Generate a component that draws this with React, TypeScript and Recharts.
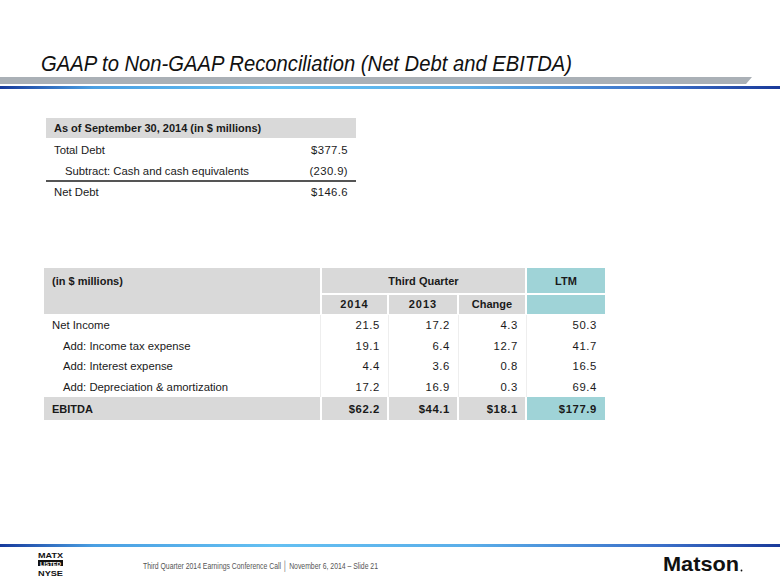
import React from 'react';
import { Surface, Rectangle, Layer } from 'recharts';

const titleText = 'GAAP to Non-GAAP Reconciliation (Net Debt and EBITDA)';
const footerText = 'Third Quarter 2014 Earnings Conference Call  \u2502 November 6, 2014 \u2013 Slide 21';

const netDebtHeader = 'As of September 30, 2014 (in $ millions)';
const netDebtLabels = ['Total Debt', 'Subtract: Cash and cash equivalents', 'Net Debt'];
const netDebtValues = ['$377.5', '(230.9)', '$146.6'];
const netDebtIndent = [false, true, false];

const ebitdaUnitLabel = '(in $ millions)';
const periodGroupLabel = 'Third Quarter';
const ltmLabel = 'LTM';
const columnLabels = ['2014', '2013', 'Change'];
const ebitdaLabels = [
  'Net Income',
  'Add: Income tax expense',
  'Add: Interest expense',
  'Add: Depreciation & amortization',
  'EBITDA',
];
const ebitdaIndent = [false, true, true, true, false];
const q2014 = [21.5, 19.1, 4.4, 17.2, 62.2];
const q2013 = [17.2, 6.4, 3.6, 16.9, 44.1];
const changeVals = [4.3, 12.7, 0.8, 0.3, 18.1];
const ltmVals = [50.3, 41.7, 16.5, 69.4, 177.9];

const FONT = '"Liberation Sans", Arial, sans-serif';
const GRAY = '#d9d9d9';
const TEAL = '#9fd3d7';
const TXT = '#1a1a1a';
const FS = 11.3;

const fmt = (v: number, total: boolean) => (total ? '$' : '') + v.toFixed(1);

export default function App() {
  const t2Top = 268;
  const colEdges = [
    [322, 387],
    [389, 457],
    [459, 525],
  ];
  const ltmEdge = [527, 605];
  const rowYs = [325, 346, 366, 387, 409];
  const seriesCols = [q2014, q2013, changeVals];

  return (
    <div style={{ position: 'absolute', left: 0, top: 0, width: 780, height: 585, background: '#fff' }}>
      <Surface width={780} height={585} viewBox={{ x: 0, y: 0, width: 780, height: 585 }}>
        <defs>
          <linearGradient id="blueLine" x1="0" y1="0" x2="1" y2="0">
            <stop offset="0" stopColor="#173a9c" />
            <stop offset="0.12" stopColor="#4a9fe2" />
            <stop offset="0.35" stopColor="#64c0f2" />
            <stop offset="0.6" stopColor="#5aaee9" />
            <stop offset="0.85" stopColor="#3b6fc8" />
            <stop offset="1" stopColor="#1a3a9a" />
          </linearGradient>
        </defs>

        {/* Title */}
        <text
          x={41}
          y={71}
          fontFamily={FONT}
          fontStyle="italic"
          fontSize={22}
          fill="#111"
          textLength={531}
          lengthAdjust="spacingAndGlyphs"
        >
          {titleText}
        </text>
        <path d="M0,77 L752,77 L746,84 L0,84 Z" fill="#aab0b6" />
        <rect x={0} y={86} width={780} height={3} fill="url(#blueLine)" />

        {/* Table 1 */}
        <Layer>
          <Rectangle x={46} y={118} width={310} height={20} fill={GRAY} />
          <text x={54} y={131.5} fontFamily={FONT} fontWeight="bold" fontSize={11} fill={TXT}>
            {netDebtHeader}
          </text>
          {netDebtLabels.map((l, i) => {
            const y = [150, 171, 192][i];
            return (
              <g key={l}>
                <text x={netDebtIndent[i] ? 65 : 54} y={y + 4} fontFamily={FONT} fontSize={FS} fill={TXT}>
                  {l}
                </text>
                <text x={348} y={y + 4} textAnchor="end" fontFamily={FONT} fontSize={FS} letterSpacing={0.4} fill={TXT}>
                  {netDebtValues[i]}
                </text>
              </g>
            );
          })}
          <rect x={46} y={180} width={310} height={2} fill="#555" />
        </Layer>

        {/* Table 2 */}
        <Layer>
          <Rectangle x={44} y={t2Top} width={276} height={46} fill={GRAY} />
          <Rectangle x={322} y={t2Top} width={203} height={25} fill={GRAY} />
          <Rectangle x={527} y={t2Top} width={78} height={25} fill={TEAL} />
          {colEdges.map(([a, b], i) => (
            <Rectangle key={i} x={a} y={295} width={b - a} height={19} fill={GRAY} />
          ))}
          <Rectangle x={527} y={295} width={78} height={19} fill={TEAL} />
          <text x={52} y={285} fontFamily={FONT} fontWeight="bold" fontSize={11} fill={TXT}>
            {ebitdaUnitLabel}
          </text>
          <text x={423.5} y={285} textAnchor="middle" fontFamily={FONT} fontWeight="bold" fontSize={11} fill={TXT}>
            {periodGroupLabel}
          </text>
          <text x={566} y={285} textAnchor="middle" fontFamily={FONT} fontWeight="bold" fontSize={11} fill={TXT}>
            {ltmLabel}
          </text>
          {columnLabels.map((c, i) => (
            <text
              key={c}
              x={(colEdges[i][0] + colEdges[i][1]) / 2}
              y={308}
              textAnchor="middle"
              fontFamily={FONT}
              fontWeight="bold"
              fontSize={11}
              letterSpacing={i < 2 ? 1 : 0}
              fill={TXT}
            >
              {c}
            </text>
          ))}

          {[320, 388, 458, 526].map((x) => (
            <rect key={x} x={x} y={315} width={1} height={82} fill="#eeeeee" />
          ))}

          <Rectangle x={44} y={397} width={276} height={23} fill={GRAY} />
          {colEdges.map(([a, b], i) => (
            <Rectangle key={'t' + i} x={a} y={397} width={b - a} height={23} fill={GRAY} />
          ))}
          <Rectangle x={527} y={397} width={78} height={23} fill={TEAL} />

          {ebitdaLabels.map((l, r) => {
            const total = r === ebitdaLabels.length - 1;
            const y = rowYs[r] + 4;
            return (
              <g key={l}>
                <text
                  x={ebitdaIndent[r] ? 63 : 52}
                  y={y}
                  fontFamily={FONT}
                  fontSize={total ? 11 : FS}
                  fontWeight={total ? 'bold' : 'normal'}
                  fill={TXT}
                >
                  {l}
                </text>
                {seriesCols.map((s, c) => (
                  <text
                    key={c}
                    x={colEdges[c][1] - 7}
                    y={y}
                    textAnchor="end"
                    fontFamily={FONT}
                    fontSize={FS}
                    fontWeight={total ? 'bold' : 'normal'}
                    letterSpacing={0.6}
                    fill={TXT}
                  >
                    {fmt(s[r], total)}
                  </text>
                ))}
                <text
                  x={ltmEdge[1] - 8}
                  y={y}
                  textAnchor="end"
                  fontFamily={FONT}
                  fontSize={FS}
                  fontWeight={total ? 'bold' : 'normal'}
                  letterSpacing={0.6}
                  fill={TXT}
                >
                  {fmt(ltmVals[r], total)}
                </text>
              </g>
            );
          })}
        </Layer>

        {/* Footer */}
        <rect x={0} y={544} width={780} height={3} fill="url(#blueLine)" />
        <g fontFamily={FONT} fontWeight="bold" fill="#111">
          <text x={38} y={558} fontSize={8} textLength={25} lengthAdjust="spacingAndGlyphs">MATX</text>
          <rect x={38} y={560} width={25} height={6} fill="#111" />
          <text x={40} y={565.5} fontSize={5} fill="#fff" textLength={21} lengthAdjust="spacingAndGlyphs">LISTED</text>
          <text x={38} y={576} fontSize={8} textLength={25} lengthAdjust="spacingAndGlyphs">NYSE</text>
        </g>
        <text x={143} y={569} fontFamily={FONT} fontSize={9.5} fill="#555" textLength={235} lengthAdjust="spacingAndGlyphs">
          {footerText}
        </text>
        <text x={663} y={571} fontFamily={FONT} fontWeight="bold" fontSize={21} fill="#111" textLength={76} lengthAdjust="spacingAndGlyphs">
          Matson
        </text>
        <circle cx={741.5} cy={570.5} r={0.9} fill="#111" />
      </Surface>
    </div>
  );
}
